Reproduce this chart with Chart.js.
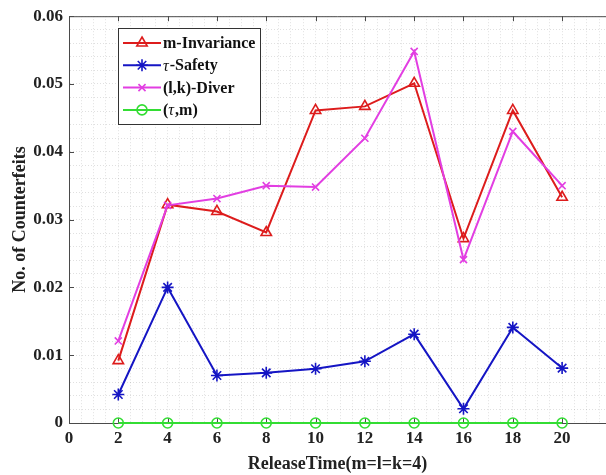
<!DOCTYPE html>
<html>
<head>
<meta charset="utf-8">
<script src="https://cdn.jsdelivr.net/npm/chart.js@4/dist/chart.umd.min.js"></script>
<style>
  html, body { margin: 0; padding: 0; background: #fff; }
  canvas { display: block; }
</style>
</head>
<body>
<canvas id="c" width="606" height="475"></canvas>
<script>
// Counterfeit ratio per release time (m = l = k = 4)
const releaseTimes = [2, 4, 6, 8, 10, 12, 14, 16, 18, 20];
const mInvariance = [0.0092, 0.0322, 0.0312, 0.0281, 0.0461, 0.0467, 0.0501, 0.0272, 0.0461, 0.0333];
const tauSafety   = [0.0042, 0.0200, 0.0070, 0.0074, 0.0080, 0.0091, 0.0131, 0.0021, 0.0141, 0.0081];
const lkDiver     = [0.0121, 0.0321, 0.0331, 0.0350, 0.0348, 0.0420, 0.0548, 0.0241, 0.0430, 0.0350];
const tauM        = [0, 0, 0, 0, 0, 0, 0, 0, 0, 0];
const seriesNames = ['m-Invariance', 'τ-Safety', '(l,k)-Diver', '(τ,m)'];
const xTickLabels = [0, 2, 4, 6, 8, 10, 12, 14, 16, 18, 20];
const yTickLabels = [0, 0.01, 0.02, 0.03, 0.04, 0.05, 0.06];

const SERIF = '"Liberation Serif", "Times New Roman", serif';
const isMajor = (list, v) => list.some(t => Math.abs(t - v) < 1e-9);
const toPoints = vals => releaseTimes.map((x, i) => ({ x, y: vals[i] }));

function series(label, vals, color, pointStyle, radius, order) {
  return {
    label, data: toPoints(vals), order,
    borderColor: color, backgroundColor: 'rgba(0,0,0,0)',
    borderWidth: 2, tension: 0, clip: false,
    pointStyle, pointRadius: radius, pointHoverRadius: radius,
    pointBorderColor: color, pointBackgroundColor: 'rgba(0,0,0,0)',
    pointBorderWidth: 1.6
  };
}

// inward tick marks and top frame line
const frame = {
  id: 'frame',
  beforeDatasetsDraw(chart) {
    const { ctx, chartArea: a, scales: { x, y } } = chart;
    ctx.save();
    ctx.strokeStyle = '#4a4a4a';
    ctx.lineWidth = 1;
    ctx.beginPath();
    ctx.moveTo(a.left, a.top + 0.5);
    ctx.lineTo(a.right, a.top + 0.5);
    xTickLabels.forEach(v => {
      const px = Math.round(x.getPixelForValue(v)) + 0.5;
      ctx.moveTo(px, a.bottom); ctx.lineTo(px, a.bottom - 5);
      ctx.moveTo(px, a.top); ctx.lineTo(px, a.top + 5);
    });
    yTickLabels.forEach(v => {
      const py = Math.round(y.getPixelForValue(v)) + 0.5;
      ctx.moveTo(a.left, py); ctx.lineTo(a.left + 5, py);
    });
    ctx.stroke();
    ctx.restore();
  }
};

// boxed legend with line + marker samples
const boxLegend = {
  id: 'boxLegend',
  afterDraw(chart) {
    const { ctx } = chart;
    const L = 118, T = 28, W = 142, H = 96, rowH = 22.3;
    ctx.save();
    ctx.fillStyle = '#fff';
    ctx.fillRect(L, T, W, H);
    ctx.strokeStyle = '#333';
    ctx.lineWidth = 1;
    ctx.strokeRect(L + 0.5, T + 0.5, W, H);
    chart.data.datasets.forEach((ds, i) => {
      const cy = T + 15 + i * rowH;
      ctx.strokeStyle = ds.borderColor;
      ctx.lineWidth = 2;
      ctx.beginPath();
      ctx.moveTo(L + 5, cy); ctx.lineTo(L + 43, cy);
      ctx.stroke();
      ctx.lineWidth = ds.pointBorderWidth;
      ctx.fillStyle = 'rgba(0,0,0,0)';
      Chart.helpers.drawPoint(ctx, {
        pointStyle: ds.pointStyle, radius: ds.pointRadius, rotation: 0,
        borderWidth: ds.pointBorderWidth
      }, L + 24, cy);
      // label text, Greek tau set in italic
      let tx = L + 45;
      ctx.fillStyle = '#111';
      ctx.textBaseline = 'middle';
      ctx.textAlign = 'left';
      seriesNames[i].split(/(τ)/).forEach(part => {
        if (!part) return;
        ctx.font = (part === 'τ' ? 'italic ' : 'bold ') + '16px ' + SERIF;
        ctx.fillText(part, tx, cy + 1);
        tx += ctx.measureText(part).width + (part === 'τ' ? 1 : 0);
      });
    });
    ctx.restore();
  }
};

Chart.defaults.font.family = SERIF;
Chart.defaults.font.weight = 'bold';
Chart.defaults.color = '#222';

new Chart(document.getElementById('c'), {
  type: 'line',
  data: {
    datasets: [
      series(seriesNames[0], mInvariance, '#dd1c1c', 'triangle', 6, 3),
      series(seriesNames[1], tauSafety,   '#1515c4', 'star',     6, 2),
      series(seriesNames[2], lkDiver,     '#e23ee2', 'crossRot', 5, 1),
      series(seriesNames[3], tauM,        '#33dd33', 'circle',   5, 0)
    ]
  },
  options: {
    responsive: false,
    animation: false,
    layout: { autoPadding: false, padding: { top: 13, right: 0, bottom: 0, left: 0 } },
    plugins: { legend: { display: false }, tooltip: { enabled: false } },
    scales: {
      x: {
        type: 'linear', min: 0, max: 21.78,
        afterFit: s => { s.height = 52; s.paddingRight = 0; s.paddingLeft = 0; },
        ticks: {
          stepSize: 0.5, autoSkip: false, includeBounds: false, maxRotation: 0,
          padding: 5, font: { size: 17, weight: 'bold' }, color: '#222',
          callback: v => isMajor(xTickLabels, v) ? String(v) : ''
        },
        grid: { color: 'rgba(0,0,0,0.12)', drawTicks: false, lineWidth: 1 },
        border: { color: '#4a4a4a', width: 1, dash: [1, 2] },
        title: {
          display: true, text: 'ReleaseTime(m=l=k=4)', color: '#222',
          font: { size: 18, weight: 'bold' }, padding: { top: 0, bottom: 0 }
        }
      },
      y: {
        min: 0, max: 0.06,
        afterFit: s => { s.width = 69; },
        ticks: {
          stepSize: 0.002, autoSkip: false, includeBounds: false,
          padding: 6, font: { size: 17, weight: 'bold' }, color: '#222',
          callback: v => isMajor(yTickLabels, v) ? (v === 0 ? '0' : v.toFixed(2)) : ''
        },
        grid: { color: 'rgba(0,0,0,0.12)', drawTicks: false, lineWidth: 1 },
        border: { color: '#4a4a4a', width: 1, dash: [1, 2] },
        title: {
          display: true, text: 'No. of Counterfeits', color: '#222',
          font: { size: 18, weight: 'bold' }, padding: { top: 10, bottom: 4 }
        }
      }
    }
  },
  plugins: [frame, boxLegend]
});
</script>
</body>
</html>
